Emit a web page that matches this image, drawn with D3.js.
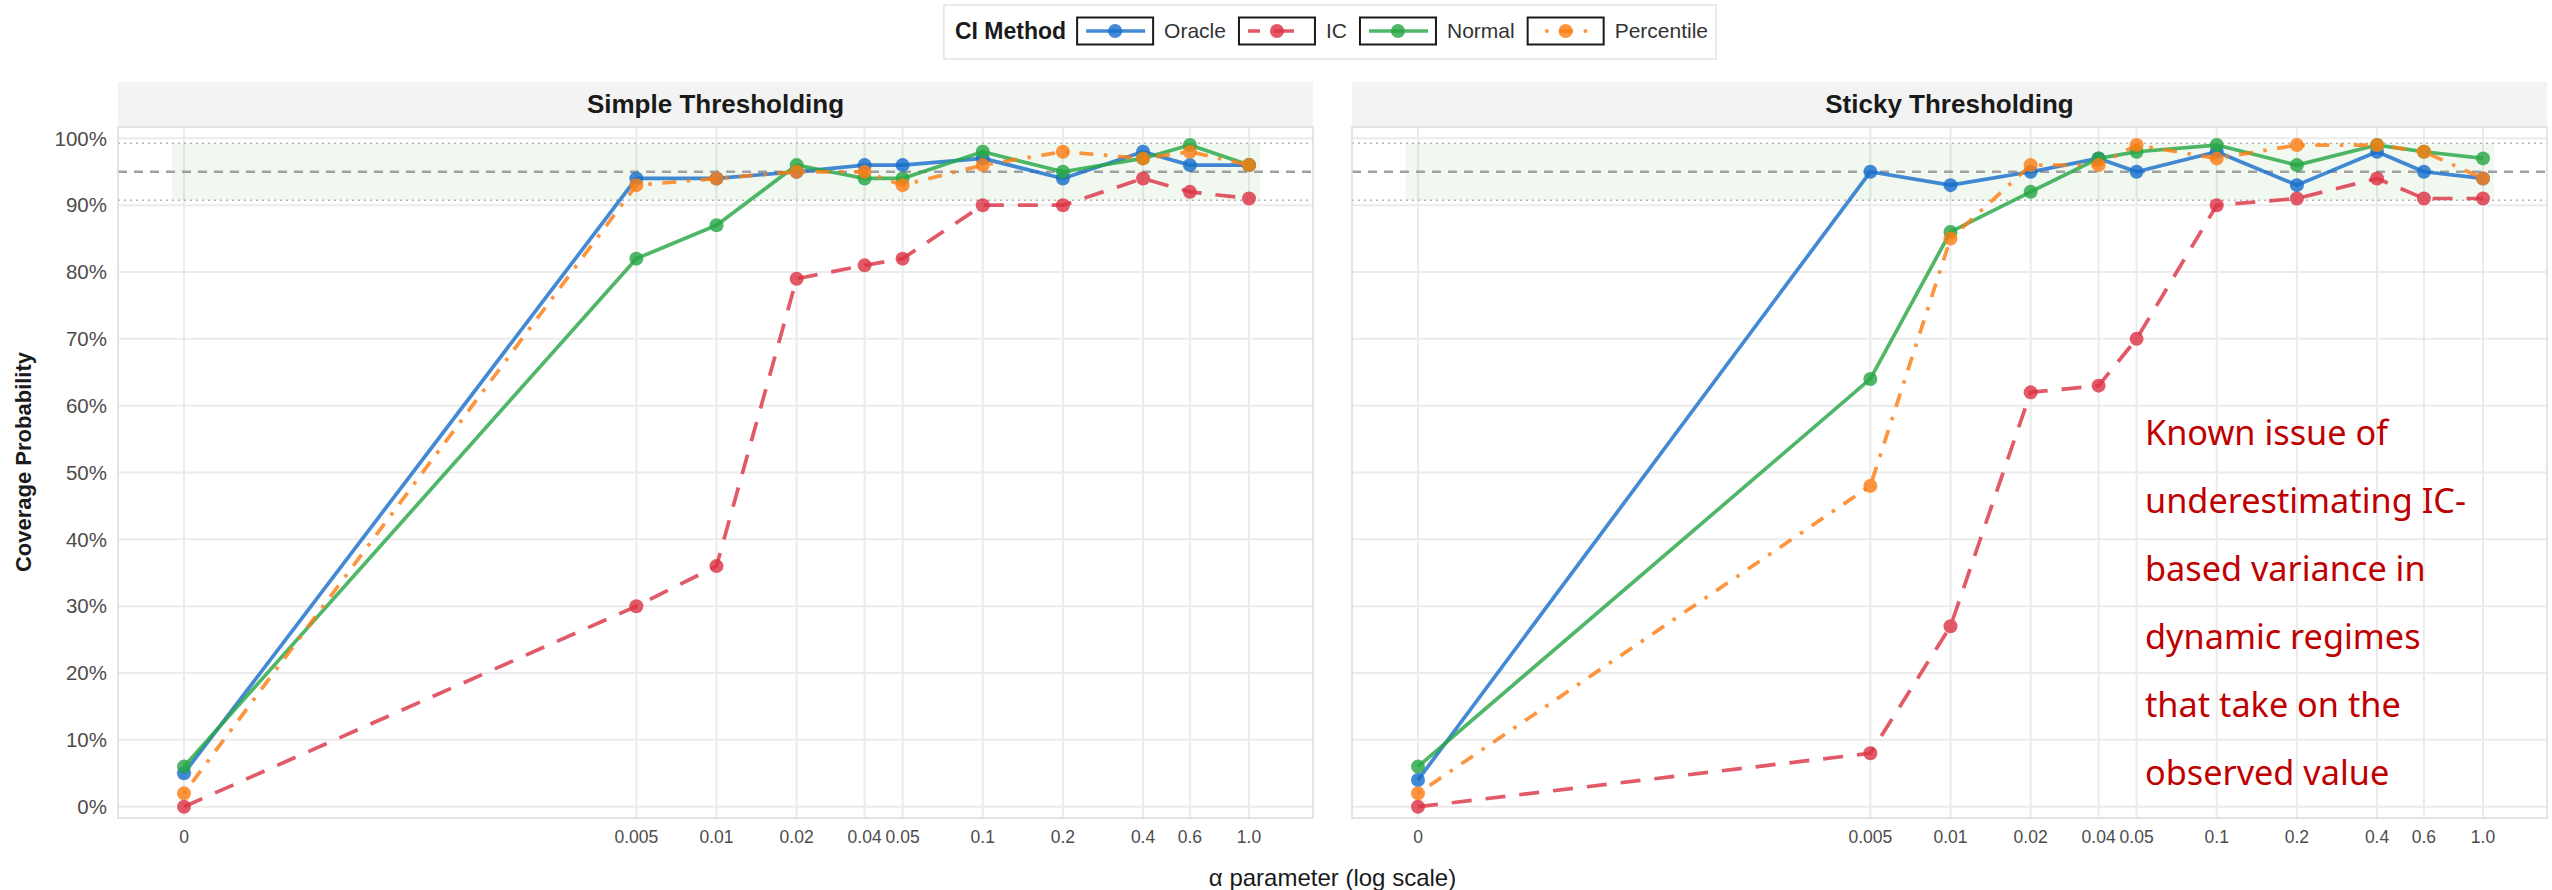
<!DOCTYPE html>
<html>
<head>
<meta charset="utf-8">
<script src="https://cdn.jsdelivr.net/npm/d3@7"></script>
<style>
  body { margin: 0; background: #ffffff; }
  svg { display: block; }
</style>
</head>
<body>
<svg id="chart" width="2552" height="890"></svg>
<script>
// ---- data -------------------------------------------------------------
const alphaValues = [0, 0.005, 0.01, 0.02, 0.036, 0.05, 0.1, 0.2, 0.4, 0.6, 1.0];
const alphaLabels = ["0", "0.005", "0.01", "0.02", "0.04", "0.05", "0.1", "0.2", "0.4", "0.6", "1.0"];
const zeroAlphaPosition = 1e-4;           // α = 0 is placed here on the log axis
const panelTitles = ["Simple Thresholding", "Sticky Thresholding"];
const methodNames = ["Oracle", "IC", "Normal", "Percentile"];

// coverage (%) per method, Simple Thresholding
const simpleOracle     = [5, 94, 94, 95, 96, 96, 97, 94, 98, 96, 96];
const simpleIC         = [0, 30, 36, 79, 81, 82, 90, 90, 94, 92, 91];
const simpleNormal     = [6, 82, 87, 96, 94, 94, 98, 95, 97, 99, 96];
const simplePercentile = [2, 93, 94, 95, 95, 93, 96, 98, 97, 98, 96];

// coverage (%) per method, Sticky Thresholding
const stickyOracle     = [4, 95, 93, 95, 97, 95, 98, 93, 98, 95, 94];
const stickyIC         = [0, 8, 27, 62, 63, 70, 90, 91, 94, 91, 91];
const stickyNormal     = [6, 64, 86, 92, 97, 98, 99, 96, 99, 98, 97];
const stickyPercentile = [2, 48, 85, 96, 96, 99, 97, 99, 99, 98, 94];

const yTickValues = [0, 10, 20, 30, 40, 50, 60, 70, 80, 90, 100];
const nominalCoverage = 95;
const mcBandLow = 90.73;    // 95% ± 1.96·sqrt(0.95·0.05/100)
const mcBandHigh = 99.27;

const noteLines = [
  "Known issue of",
  "underestimating IC-",
  "based variance in",
  "dynamic regimes",
  "that take on the",
  "observed value"
];

// ---- styling ------------------------------------------------------------
const methodStyle = {
  Oracle:     { color: "#1a6fcc", dash: null },
  IC:         { color: "#dc3545", dash: "20,14" },
  Normal:     { color: "#28a745", dash: null },
  Percentile: { color: "#fd7e14", dash: "3.5,10.5,14,10.5" }
};
const markAlpha = 0.82;
const lineWidth = 3.7;
const pointRadius = 7;
const sansFont = "'Liberation Sans', Arial, Helvetica, sans-serif";

const panelSeries = [
  { Oracle: simpleOracle, IC: simpleIC, Normal: simpleNormal, Percentile: simplePercentile },
  { Oracle: stickyOracle, IC: stickyIC, Normal: stickyNormal, Percentile: stickyPercentile }
];

// ---- layout -------------------------------------------------------------
const svg = d3.select("#chart");
const panelLefts = [118, 1352];
const panelWidth = 1195;
const stripTop = 82, stripBottom = 126;
const plotTop = 127, plotBottom = 818;

const y = d3.scaleLinear().domain([-1.69, 101.7]).range([plotBottom, plotTop]);
const xPos = a => (a === 0 ? zeroAlphaPosition : a);

panelTitles.forEach((title, p) => {
  const left = panelLefts[p];
  const x = d3.scaleLog().domain([1e-4, 1]).range([left + 66, left + 1131]);
  const g = svg.append("g");

  // strip
  g.append("rect")
    .attr("x", left).attr("y", stripTop)
    .attr("width", panelWidth).attr("height", stripBottom - stripTop)
    .attr("fill", "#f3f3f3");
  g.append("text")
    .attr("x", left + panelWidth / 2).attr("y", (stripTop + stripBottom) / 2)
    .attr("dy", "0.36em")
    .attr("text-anchor", "middle")
    .attr("font-family", sansFont).attr("font-weight", "bold")
    .attr("font-size", 26).attr("fill", "#1a1a1a")
    .text(title);

  // grid
  const grid = g.append("g").attr("stroke", "#ebebeb").attr("stroke-width", 2);
  grid.selectAll("line.h").data(yTickValues).join("line")
    .attr("x1", left).attr("x2", left + panelWidth)
    .attr("y1", d => y(d)).attr("y2", d => y(d));
  grid.selectAll("line.v").data(alphaValues).join("line")
    .attr("x1", d => x(xPos(d))).attr("x2", d => x(xPos(d)))
    .attr("y1", plotTop).attr("y2", plotBottom);

  // Monte Carlo band around the nominal level
  g.append("rect")
    .attr("x", x(9e-5)).attr("width", x(1.1) - x(9e-5))
    .attr("y", y(mcBandHigh)).attr("height", y(mcBandLow) - y(mcBandHigh))
    .attr("fill", "#2ca02c").attr("fill-opacity", 0.07);
  [mcBandLow, mcBandHigh].forEach(v => {
    g.append("line")
      .attr("x1", left).attr("x2", left + panelWidth)
      .attr("y1", y(v)).attr("y2", y(v))
      .attr("stroke", "#b3b3b3").attr("stroke-width", 1.6)
      .attr("stroke-dasharray", "2,4");
  });
  g.append("line")
    .attr("x1", left).attr("x2", left + panelWidth)
    .attr("y1", y(nominalCoverage)).attr("y2", y(nominalCoverage))
    .attr("stroke", "#a0a0a0").attr("stroke-width", 2.4)
    .attr("stroke-dasharray", "9,7");

  // panel border
  g.append("rect")
    .attr("x", left).attr("y", plotTop)
    .attr("width", panelWidth).attr("height", plotBottom - plotTop)
    .attr("fill", "none").attr("stroke", "#dcdcdc").attr("stroke-width", 1.5);

  // series
  const line = d3.line().x(d => x(xPos(d[0]))).y(d => y(d[1]));
  methodNames.forEach(m => {
    const st = methodStyle[m];
    const pts = alphaValues.map((a, i) => [a, panelSeries[p][m][i]]);
    g.append("path")
      .datum(pts)
      .attr("d", line)
      .attr("fill", "none")
      .attr("stroke", st.color).attr("stroke-opacity", markAlpha)
      .attr("stroke-width", lineWidth)
      .attr("stroke-linejoin", "round")
      .attr("stroke-dasharray", st.dash);
    g.append("g").selectAll("circle").data(pts).join("circle")
      .attr("cx", d => x(xPos(d[0]))).attr("cy", d => y(d[1]))
      .attr("r", pointRadius)
      .attr("fill", st.color).attr("fill-opacity", markAlpha);
  });

  // x tick labels
  g.append("g").selectAll("text").data(alphaValues).join("text")
    .attr("x", d => x(xPos(d))).attr("y", 837).attr("dy", "0.35em")
    .attr("text-anchor", "middle")
    .attr("font-family", sansFont).attr("font-size", 17.5).attr("fill", "#4d4d4d")
    .text((d, i) => alphaLabels[i]);

  // y tick labels (left panel only)
  if (p === 0) {
    g.append("g").selectAll("text").data(yTickValues).join("text")
      .attr("x", left - 11).attr("y", d => y(d)).attr("dy", "0.35em")
      .attr("text-anchor", "end")
      .attr("font-family", sansFont).attr("font-size", 20.5).attr("fill", "#4d4d4d")
      .text(d => d + "%");
  }
});

// axis titles
svg.append("text")
  .attr("x", (panelLefts[0] + panelLefts[1] + panelWidth) / 2).attr("y", 878).attr("dy", "0.35em")
  .attr("text-anchor", "middle")
  .attr("font-family", sansFont).attr("font-size", 24).attr("fill", "#1a1a1a")
  .text("α parameter (log scale)");
svg.append("text")
  .attr("transform", "translate(23,462) rotate(-90)")
  .attr("dy", "0.35em")
  .attr("text-anchor", "middle")
  .attr("font-family", sansFont).attr("font-weight", "bold").attr("font-size", 22).attr("fill", "#1a1a1a")
  .text("Coverage Probability");

// ---- legend -------------------------------------------------------------
const legend = svg.append("g");
const legendCy = 31;
const keyW = 76, keyH = 27;
const legendBox = legend.append("rect")
  .attr("y", 5).attr("height", 54)
  .attr("fill", "#ffffff").attr("stroke", "#e3e3e3").attr("stroke-width", 1.5);
let cursor = 11;
const titleText = legend.append("text")
  .attr("x", cursor).attr("y", legendCy).attr("dy", "0.35em")
  .attr("font-family", sansFont).attr("font-weight", "bold").attr("font-size", 23).attr("fill", "#1a1a1a")
  .text("CI Method");
cursor += titleText.node().getComputedTextLength() + 11;
methodNames.forEach((m, i) => {
  const st = methodStyle[m];
  const kx = cursor;
  legend.append("rect")
    .attr("x", kx).attr("y", legendCy - keyH / 2)
    .attr("width", keyW).attr("height", keyH)
    .attr("fill", "#ffffff").attr("stroke", "#1a1a1a").attr("stroke-width", 2);
  legend.append("line")
    .attr("x1", kx + 9).attr("x2", kx + 68)
    .attr("y1", legendCy).attr("y2", legendCy)
    .attr("stroke", st.color).attr("stroke-opacity", markAlpha)
    .attr("stroke-width", lineWidth)
    .attr("stroke-dasharray", st.dash)
    .attr("stroke-dashoffset", st.dash ? (m === "Percentile" ? 30 : 8) : null);
  legend.append("circle")
    .attr("cx", kx + 38).attr("cy", legendCy).attr("r", pointRadius)
    .attr("fill", st.color).attr("fill-opacity", markAlpha);
  cursor += keyW + 11;
  const t = legend.append("text")
    .attr("x", cursor).attr("y", legendCy).attr("dy", "0.35em")
    .attr("font-family", sansFont).attr("font-size", 21).attr("fill", "#333333")
    .text(m);
  cursor += t.node().getComputedTextLength() + (i < methodNames.length - 1 ? 13 : 8);
});
const legendWidth = cursor;
legendBox.attr("x", 0).attr("width", legendWidth);
legend.attr("transform", `translate(${1330 - legendWidth / 2},0)`);

// ---- annotation -----------------------------------------------------------
const note = svg.append("g")
  .attr("font-family", "'Noto Sans', 'Open Sans', sans-serif")
  .attr("fill", "#c00000");
const noteX = 2145, noteBaseline = 445, noteLeading = 68;
const noteTexts = note.selectAll("text").data(noteLines).join("text")
  .attr("x", noteX).attr("y", (d, i) => noteBaseline + i * noteLeading)
  .attr("font-size", 34)
  .text(d => d);
// size the note so its widest line spans the column
const widest = d3.max(noteTexts.nodes(), n => n.getComputedTextLength());
noteTexts.attr("font-size", 34 * 321 / widest);
</script>
</body>
</html>
